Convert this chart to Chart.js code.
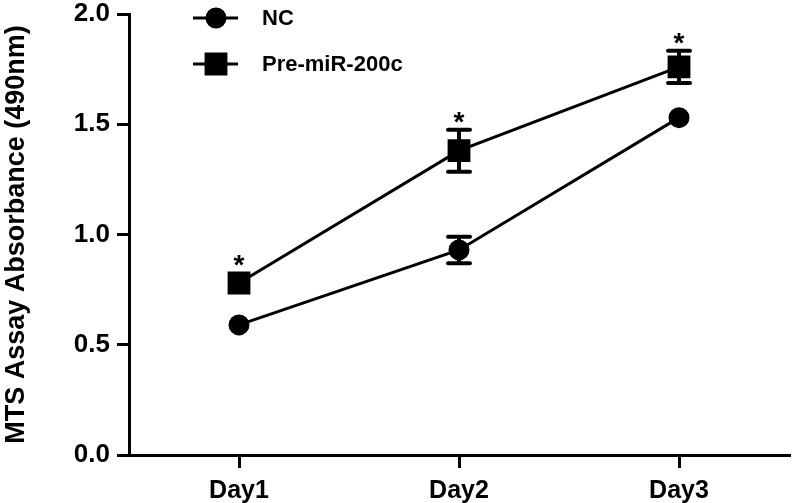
<!DOCTYPE html>
<html>
<head>
<meta charset="utf-8">
<script src="https://cdn.jsdelivr.net/npm/chart.js@4/dist/chart.umd.min.js"></script>
<style>
  html, body { margin: 0; padding: 0; background: #fff; }
  #wrap { width: 792px; height: 503px; }
</style>
</head>
<body>
<div id="wrap"><canvas id="myChart" width="792" height="503"></canvas></div>
<script>
// data
const days = ['Day1', 'Day2', 'Day3'];
const ncMean = [0.59, 0.93, 1.53];
const ncErr = [0, 0.06, 0];       // bars hidden behind the marker where 0
const preMean = [0.78, 1.38, 1.76];
const preErr = [0, 0.095, 0.073];
const starred = [true, true, true]; // asterisk above Pre-miR-200c
const yTicks = [0.0, 0.5, 1.0, 1.5, 2.0];

const FONT = '"Liberation Sans", Arial, sans-serif';

// error bars + asterisks, drawn through the chart scales
const errorBars = {
    id: 'errorBars',
    afterDatasetsDraw(chart) {
        const ctx = chart.ctx;
        const x = chart.scales.x, y = chart.scales.y;
        const sets = [[ncMean, ncErr], [preMean, preErr]];
        ctx.save();
        ctx.strokeStyle = '#000';
        ctx.lineWidth = 4;
        ctx.lineCap = 'round';
        sets.forEach(([m, e]) => {
            m.forEach((v, i) => {
                if (!e[i]) return;
                const px = x.getPixelForValue(i);
                const top = y.getPixelForValue(v + e[i]);
                const bot = y.getPixelForValue(v - e[i]);
                ctx.beginPath();
                ctx.moveTo(px, top); ctx.lineTo(px, bot);
                ctx.moveTo(px - 11, top); ctx.lineTo(px + 11, top);
                ctx.moveTo(px - 11, bot); ctx.lineTo(px + 11, bot);
                ctx.stroke();
            });
        });
        ctx.fillStyle = '#000';
        ctx.font = 'bold 28px ' + FONT;
        ctx.textAlign = 'center';
        ctx.textBaseline = 'alphabetic';
        preMean.forEach((v, i) => {
            if (!starred[i]) return;
            const px = x.getPixelForValue(i);
            const top = Math.min(y.getPixelForValue(v + preErr[i]), y.getPixelForValue(v) - 10);
            ctx.fillText('*', px, top + 1);
        });
        ctx.restore();
    }
};

// legend in the top of the plot, like the original
const topLegend = {
    id: 'topLegend',
    afterDraw(chart) {
        const ctx = chart.ctx;
        ctx.save();
        chart.data.datasets.forEach((ds, i) => {
            const cy = 18 + i * 46;
            ctx.strokeStyle = '#000';
            ctx.lineWidth = 3;
            ctx.beginPath();
            ctx.moveTo(193, cy); ctx.lineTo(238, cy);
            ctx.stroke();
            Chart.helpers.drawPoint(ctx, {
                pointStyle: ds.pointStyle, radius: ds.pointRadius, borderWidth: 1
            }, 216, cy);
            ctx.fillStyle = '#000';
            ctx.font = 'bold 22px ' + FONT;
            ctx.textBaseline = 'middle';
            ctx.fillText(ds.label, 262, cy + 1);
        });
        ctx.restore();
    }
};

const ctx = document.getElementById('myChart').getContext('2d');
const myChart = new Chart(ctx, {
    type: 'line',
    data: {
        labels: days,
        datasets: [{
            label: 'NC',
            data: ncMean,
            borderColor: '#000',
            backgroundColor: '#000',
            borderWidth: 3,
            pointStyle: 'circle',
            pointRadius: 9,
            pointBackgroundColor: '#000',
            pointBorderColor: '#000',
            tension: 0
        }, {
            label: 'Pre-miR-200c',
            data: preMean,
            borderColor: '#000',
            backgroundColor: '#000',
            borderWidth: 3,
            pointStyle: 'rect',
            pointRadius: 14,
            pointBackgroundColor: '#000',
            pointBorderColor: '#000',
            tension: 0
        }]
    },
    options: {
        responsive: false,
        animation: false,
        layout: { autoPadding: false, padding: { top: 14, right: 3, left: 0, bottom: 0 } },
        plugins: {
            legend: { display: false },
            tooltip: { enabled: false }
        },
        scales: {
            x: {
                offset: true,
                grid: { drawOnChartArea: false, offset: false, tickLength: 13, lineWidth: 3, color: '#000' },
                border: { width: 3, color: '#000' },
                ticks: { color: '#000', font: { family: FONT, size: 25, weight: 'bold' }, padding: 8 },
                afterFit(s) {
                    s.height = 48;
                    s.paddingLeft = 0; s.paddingRight = 0;
                }
            },
            y: {
                min: 0,
                max: 2.0,
                grid: { drawOnChartArea: false, tickLength: 12, lineWidth: 3, color: '#000' },
                border: { width: 3, color: '#000' },
                afterBuildTicks(s) { s.ticks = yTicks.map(v => ({ value: v })); },
                ticks: {
                    color: '#000',
                    font: { family: FONT, size: 26, weight: 'bold' },
                    padding: 7,
                    callback: v => v.toFixed(1)
                },
                title: {
                    display: true,
                    text: 'MTS Assay Absorbance (490nm)',
                    color: '#000',
                    font: { family: FONT, size: 27, weight: 'bold' },
                    padding: { top: 0, bottom: 6 }
                },
                afterFit(s) {
                    s.width = 129;
                    s.paddingTop = 0; s.paddingBottom = 0;
                }
            }
        }
    },
    plugins: [errorBars, topLegend]
});
</script>
</body>
</html>
